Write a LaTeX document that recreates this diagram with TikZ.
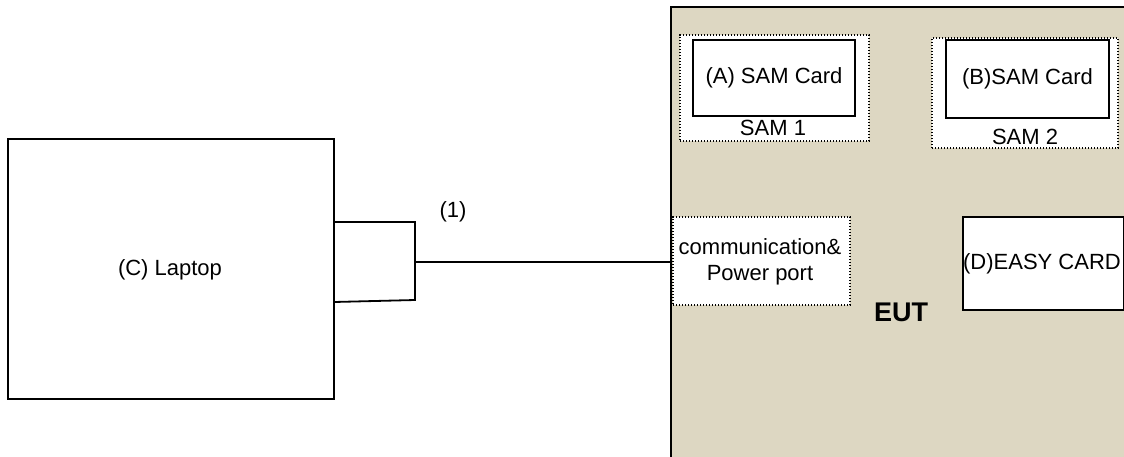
\documentclass[tikz,border=0pt]{standalone}
\usepackage{fontspec}
\setmainfont{Liberation Sans}
\definecolor{eutbg}{HTML}{DDD7C2}
\begin{document}
\begin{tikzpicture}[x=1pt,y=-1pt,
  solidbox/.style={draw=black,line width=2pt,fill=white,inner sep=0pt},
  dotbox/.style={draw=black,line width=2pt,dash pattern=on 1.2pt off 1.8pt,fill=white,inner sep=0pt},
  lbl/.style={font=\fontsize{22}{26}\selectfont,inner sep=0pt,align=center},
  wire/.style={draw=black,line width=1.8pt}]
\useasboundingbox (0,0) rectangle (1124,456);
% EUT
\fill[eutbg] (671,7) rectangle (1130,462);
\draw[line width=2.2pt] (1130,7) -- (671,7) -- (671,462);
% SAM 1
\node[dotbox,minimum width=189pt,minimum height=106pt,anchor=north west] (sam1) at (679,34) {};
\node[solidbox,minimum width=162pt,minimum height=76pt,anchor=north west] (cardA) at (692,39) {};
\node[lbl] (cardAt) at (cardA.center) {(A) SAM Card};
\node[lbl] (sam1t) at (773,128) {SAM 1};
% SAM 2
\node[dotbox,minimum width=186pt,minimum height=110pt,anchor=north west] (sam2) at (931,37) {};
\node[solidbox,minimum width=163pt,minimum height=78pt,anchor=north west] (cardB) at (945,39) {};
\node[lbl] (cardBt) at (cardB.center) {(B)SAM Card};
\node[lbl] (sam2t) at (1025,137) {SAM 2};
% comm port
\node[dotbox,minimum width=177pt,minimum height=88pt,anchor=north west] (port) at (672,216) {};
\node[lbl] (portt) at (760,262) {communication\&\\Power port};
% easy card
\node[solidbox,minimum width=161pt,minimum height=93pt,anchor=north west] (easy) at (962,216) {};
\node[lbl] (easyt) at (1042,264) {(D)EASY CARD};
% EUT label
\node[lbl,font=\fontsize{27}{32}\selectfont\bfseries] (eut) at (901,312) {EUT};
% Laptop
\node[draw=black,line width=2.2pt,fill=white,minimum width=326pt,minimum height=260pt,anchor=north west,inner sep=0pt] (laptop) at (7,138) {};
\node[lbl] (laptopt) at (170,270) {(C) Laptop};
% connector box
\coordinate (c1) at (334,222);
\coordinate (c2) at (415,222);
\coordinate (c3) at (415,300);
\coordinate (c4) at (334,302);
\draw[wire] (c1) -- (c2) -- (c3) -- (c4);
\coordinate (plug) at (415,262);
\draw[wire] (plug) -- (port.west |- plug);
\node[lbl] (one) at (453,212) {(1)};
\end{tikzpicture}
\end{document}
